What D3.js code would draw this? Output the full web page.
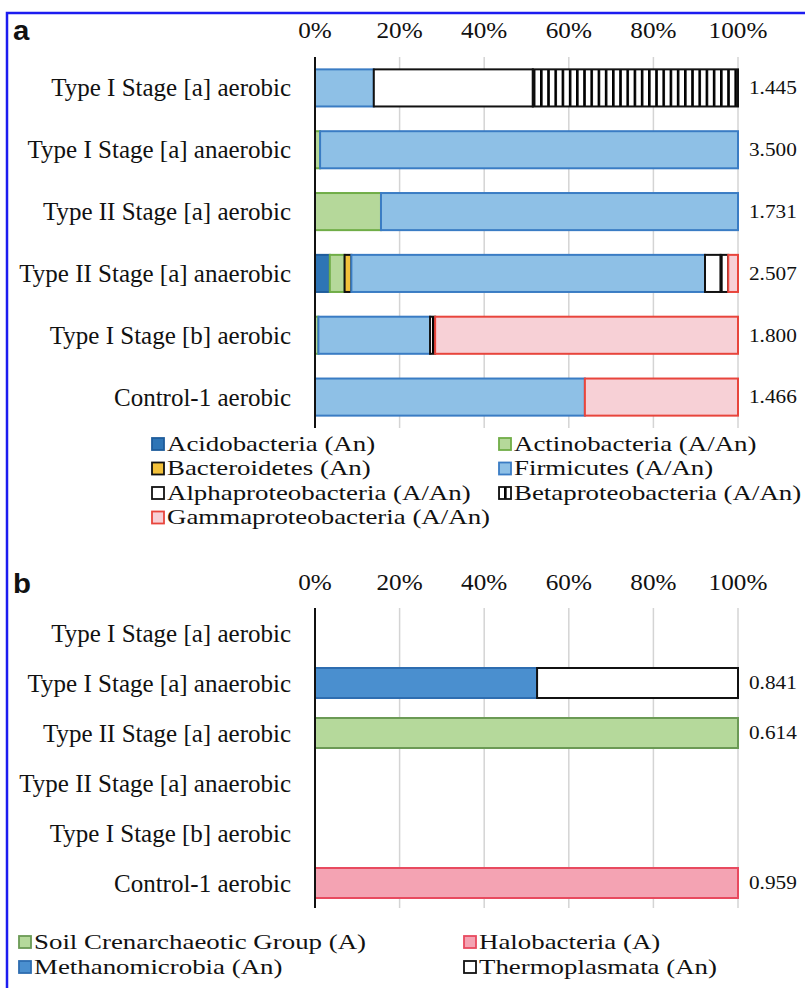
<!DOCTYPE html>
<html><head><meta charset="utf-8">
<script src="https://cdn.jsdelivr.net/npm/d3@7"></script>
<style>html,body{margin:0;padding:0;background:#fff;}svg{display:block;}</style>
</head><body>
<script>
// ---------- DATA ----------
const categories = ["Type I Stage [a] aerobic","Type I Stage [a] anaerobic","Type II Stage [a] aerobic","Type II Stage [a] anaerobic","Type I Stage [b] aerobic","Control-1 aerobic"];
const tickValues = [0,20,40,60,80,100];
const tickLabels = ["0%","20%","40%","60%","80%","100%"];

const bacteriaGroups = ["Acidobacteria (An)","Actinobacteria (A/An)","Bacteroidetes (An)","Firmicutes (A/An)","Alphaproteobacteria (A/An)","Betaproteobacteria (A/An)","Gammaproteobacteria (A/An)"];
const acidobacteria       = [0,    0,    0,    3.5,  0,    0];
const actinobacteria      = [0,    1.2,  15.6, 3.5,  0.8,  0];
const bacteroidetes       = [0,    0,    0,    1.6,  0,    0];
const firmicutes          = [13.9, 98.8, 84.4, 83.6, 26.4, 63.8];
const alphaproteobacteria = [37.6, 0,    0,    3.7,  0,    0];
const betaproteobacteria  = [48.5, 0,    0,    1.8,  1.2,  0];
const gammaproteobacteria = [0,    0,    0,    2.3,  71.6, 36.2];
const bacteriaTotals = ["1.445","3.500","1.731","2.507","1.800","1.466"];

const archaeaGroups = ["Soil Crenarchaeotic Group (A)","Halobacteria (A)","Methanomicrobia (An)","Thermoplasmata (An)"];
const soilCrenarchaeotic = [0, 0,    100, 0, 0, 0];
const halobacteria       = [0, 0,    0,   0, 0, 100];
const methanomicrobia    = [0, 52.5, 0,   0, 0, 0];
const thermoplasmata     = [0, 47.5, 0,   0, 0, 0];
const archaeaTotals = ["","0.841","0.614","","","0.959"];

// ---------- STYLES ----------
const bacteriaStyle = [
  {fill:"#2e75b6", stroke:"#1f5d9c"},
  {fill:"#b5d89a", stroke:"#70ad47"},
  {fill:"#f3c13a", stroke:"#111"},
  {fill:"#8ec0e6", stroke:"#3a7cc4"},
  {fill:"#ffffff", stroke:"#111"},
  {fill:"url(#stripes)", stroke:"#111"},
  {fill:"#f7d0d6", stroke:"#e8453c"}
];
const archaeaStyle = [
  {fill:"#b5d99b", stroke:"#6b9a55"},
  {fill:"#f4a3b3", stroke:"#e84a5f"},
  {fill:"#4a8fcf", stroke:"#2e6db0"},
  {fill:"#ffffff", stroke:"#111"}
];
const SERIF = "'Liberation Serif','Times New Roman',serif";

const W = 805, H = 988;
const svg = d3.select("body").append("svg").attr("width", W).attr("height", H);
const defs = svg.append("defs");
const pat = defs.append("pattern").attr("id","stripes").attr("patternUnits","userSpaceOnUse")
  .attr("width",7.2).attr("height",10);
pat.append("rect").attr("width",7.2).attr("height",10).attr("fill","#fff");
pat.append("rect").attr("x",0).attr("width",2.6).attr("height",10).attr("fill","#000");

// frame
svg.append("rect").attr("x",7).attr("y",13).attr("width",W+20).attr("height",H+20)
  .attr("fill","none").attr("stroke","#1c1cf0").attr("stroke-width",2.5);

function txt(g, x, y, s, size, anchor, sx, opts={}) {
  return g.append("text")
    .attr("transform", `translate(${x},${y}) scale(${sx},1)`)
    .attr("text-anchor", anchor)
    .attr("dominant-baseline","central")
    .style("font-family", opts.family || SERIF)
    .style("font-size", size+"px")
    .style("font-weight", opts.weight || "normal")
    .attr("fill","#111")
    .text(s);
}

function panel(cfg) {
  const g = svg.append("g");
  const x = d3.scaleLinear().domain([0,100]).range([315, 738]);
  const y = d3.scaleBand().domain(categories).range([cfg.top, cfg.bottom]).paddingInner(cfg.pad).paddingOuter(cfg.pad/2);
  // letter
  txt(g, 13, cfg.letterY, cfg.letter, 28, "start", 1.05, {family:"'Liberation Sans',Arial,sans-serif", weight:"bold"});
  // tick labels
  tickValues.forEach((v,i)=> txt(g, x(v), cfg.tickY, tickLabels[i], 24, "middle", 1.05));
  // gridlines
  g.append("g").selectAll("line").data(tickValues.slice(1)).join("line")
    .attr("x1",d=>x(d)).attr("x2",d=>x(d)).attr("y1",cfg.top).attr("y2",cfg.bottom)
    .attr("stroke","#d4d4d4").attr("stroke-width",1.5);
  // stacked bars
  const rows = categories.map((c,i)=>{ const o={cat:c}; cfg.keys.forEach((k,j)=>o[k]=cfg.series[j][i]); return o; });
  const stack = d3.stack().keys(cfg.keys)(rows);
  stack.forEach((layer, j) => {
    g.append("g").selectAll("rect").data(layer.filter(d=>d[1]-d[0]>0)).join("rect")
      .attr("x", d=>x(d[0])).attr("y", d=>y(d.data.cat))
      .attr("width", d=>x(d[1])-x(d[0])).attr("height", y.bandwidth())
      .attr("fill", cfg.styles[j].fill).attr("stroke", cfg.styles[j].stroke).attr("stroke-width",2);
  });
  // axis line
  g.append("line").attr("x1",315).attr("x2",315).attr("y1",cfg.top).attr("y2",cfg.bottom)
    .attr("stroke","#111").attr("stroke-width",2);
  // category labels
  categories.forEach(c => txt(g, 291, y(c)+y.bandwidth()/2, c, 25, "end", 1.0));
  // totals
  categories.forEach((c,i) => { if (cfg.totals[i]) txt(g, 749, y(c)+y.bandwidth()/2, cfg.totals[i], 18, "start", 1.18); });
  // legend
  cfg.keys.forEach((k,j)=>{
    const col = j % 2, row = Math.floor(j/2);
    const lx = cfg.legendX[col], ly = cfg.legendY + row*cfg.legendDy;
    g.append("rect").attr("x",lx).attr("y",ly-6).attr("width",12).attr("height",12)
      .attr("fill", cfg.styles[j].fill).attr("stroke", cfg.styles[j].stroke).attr("stroke-width",1.8);
    txt(g, lx+15, ly, k, 21, "start", 1.28);
  });
}

panel({letter:"a", letterY:30, tickY:30, top:57, bottom:428, pad:0.4,
  keys:bacteriaGroups, series:[acidobacteria,actinobacteria,bacteroidetes,firmicutes,alphaproteobacteria,betaproteobacteria,gammaproteobacteria],
  styles:bacteriaStyle, totals:bacteriaTotals, legendX:[152,499], legendY:444, legendDy:24.5});

panel({letter:"b", letterY:583, tickY:582, top:608, bottom:908, pad:0.4,
  keys:archaeaGroups, series:[soilCrenarchaeotic,halobacteria,methanomicrobia,thermoplasmata],
  styles:archaeaStyle, totals:archaeaTotals, legendX:[19,464], legendY:942, legendDy:25});
</script>
</body></html>
